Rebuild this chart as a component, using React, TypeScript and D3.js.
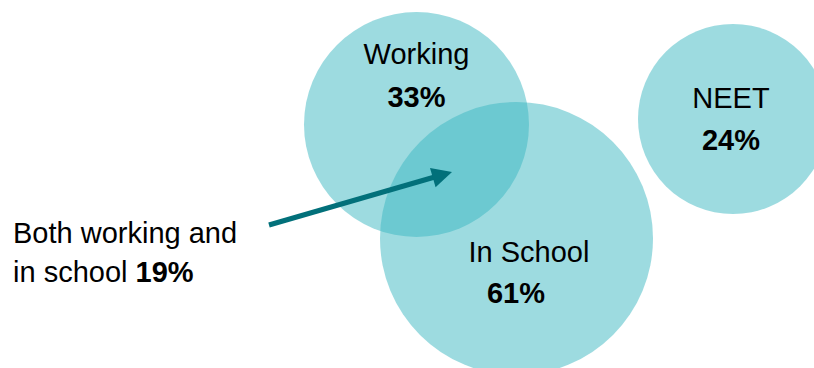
import React from "react";
import * as d3 from "d3";

// Data
const categories = ["Working", "In School", "NEET"];
const shares = [33, 61, 24];
const overlapLabel = ["Both working and", "in school"];
const overlapShare = 19;

// Layout (pixels)
const W = 814;
const H = 368;
const centers: [number, number][] = [
  [416.5, 124.5],
  [516.5, 238.5],
  [733, 119],
];
const radii = [112.5, 136.5, 95];
const labelPos: { name: [number, number]; value: [number, number] }[] = [
  { name: [416.5, 64], value: [416.5, 107] },
  { name: [529, 262], value: [516, 303] },
  { name: [731, 108], value: [731, 150] },
];

const FONT = "'Liberation Sans', Arial, Helvetica, sans-serif";
const fill = "rgb(59,183,193)";
const arrowColor = "#02707a";

export default function App() {
  const fmt = (v: number) => `${v}%`;
  const start: [number, number] = [269, 225];
  const tip: [number, number] = [452, 172];
  const ang = Math.atan2(tip[1] - start[1], tip[0] - start[0]);
  const headLen = 20;
  const headHalf = 10;
  const base: [number, number] = [tip[0] - headLen * Math.cos(ang), tip[1] - headLen * Math.sin(ang)];
  const px = -Math.sin(ang), py = Math.cos(ang);
  const head = d3.line()([
    tip,
    [base[0] + px * headHalf, base[1] + py * headHalf],
    [base[0] - px * headHalf, base[1] - py * headHalf],
  ]) + "Z";
  const shaft = d3.line()([start, [base[0] + 2 * Math.cos(ang), base[1] + 2 * Math.sin(ang)]]);

  return (
    <svg width={W} height={H} style={{ position: "absolute", left: 0, top: 0 }} fontFamily={FONT}>
      <rect width={W} height={H} fill="#fff" />
      {categories.map((c, i) => (
        <circle key={c} cx={centers[i][0]} cy={centers[i][1]} r={radii[i]} fill={fill} fillOpacity={0.5} />
      ))}
      {categories.map((c, i) => (
        <g key={"t" + c} textAnchor="middle" fontSize={29} fill="#000">
          <text x={labelPos[i].name[0]} y={labelPos[i].name[1]}>{c}</text>
          <text x={labelPos[i].value[0]} y={labelPos[i].value[1]} fontWeight="bold">{fmt(shares[i])}</text>
        </g>
      ))}
      <path d={shaft ?? ""} stroke={arrowColor} strokeWidth={5} fill="none" />
      <path d={head} fill={arrowColor} />
      <g fontSize={29} fill="#000">
        <text x={13} y={243}>{overlapLabel[0]}</text>
        <text x={13} y={282}>
          {overlapLabel[1]} <tspan fontWeight="bold">{fmt(overlapShare)}</tspan>
        </text>
      </g>
    </svg>
  );
}
